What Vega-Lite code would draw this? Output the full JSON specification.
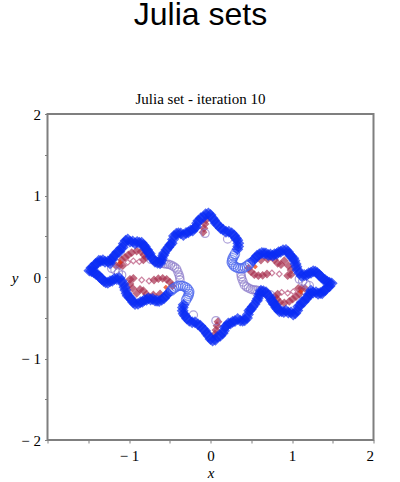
{"$schema":"https://vega.github.io/schema/vega-lite/v6.json","width":326,"height":326,"autosize":{"type":"none"},"padding":{"left":47.5,"top":114,"right":26.5,"bottom":42},"background":"white",
"title":{"text":"Julia sets","subtitle":"Julia set - iteration 10","anchor":"middle","dx":-10,"font":"Liberation Sans","fontSize":32,"fontWeight":"normal","color":"#000000","subtitleFont":"Liberation Serif","subtitleFontSize":15,"subtitleColor":"#000000","subtitlePadding":60,"offset":-1},
"config":{"view":{"stroke":"#7f7f7f","strokeWidth":2}},
"data":{"values":[
{"x":-1.159,"y":0.139,"g":"red"},{"x":-1.118,"y":0.139,"g":"red"},{"x":-1.077,"y":0.139,"g":"red"},{"x":-1.09,"y":0.209,"g":"red"},{"x":-1.049,"y":0.242,"g":"red"},{"x":-1.008,"y":0.27,"g":"red"},{"x":-0.967,"y":0.299,"g":"red"},{"x":-0.906,"y":0.319,"g":"red"},{"x":-0.852,"y":0.311,"g":"red"},{"x":-0.816,"y":0.27,"g":"red"},{"x":-0.791,"y":0.241,"g":"red"},{"x":-0.824,"y":0.209,"g":"red"},{"x":-0.873,"y":0.188,"g":"small"},{"x":-0.947,"y":0.197,"g":"small"},{"x":-1.016,"y":0.18,"g":"small"},
{"x":-0.988,"y":-0.028,"g":"red"},{"x":-0.947,"y":-0.016,"g":"red"},{"x":-0.844,"y":-0.037,"g":"small"},{"x":-0.754,"y":-0.049,"g":"small"},{"x":-0.693,"y":-0.037,"g":"red"},{"x":-0.64,"y":-0.02,"g":"red"},{"x":-0.587,"y":-0.016,"g":"red"},{"x":-0.538,"y":-0.028,"g":"red"},{"x":-0.497,"y":-0.065,"g":"red"},{"x":-0.468,"y":-0.11,"g":"red"},{"x":-0.988,"y":-0.086,"g":"red"},{"x":-0.955,"y":-0.139,"g":"red"},{"x":-0.906,"y":-0.2,"g":"red"},{"x":-0.865,"y":-0.151,"g":"red"},{"x":-0.824,"y":-0.168,"g":"red"},{"x":-0.783,"y":-0.212,"g":"red"},{"x":-0.701,"y":-0.221,"g":"red"},{"x":-0.619,"y":-0.208,"g":"red"},
{"x":-0.055,"y":0.7,"g":"red"},{"x":-0.067,"y":0.651,"g":"red"},{"x":-0.08,"y":0.597,"g":"red"},{"x":-0.092,"y":0.548,"g":"red"},
{"x":1.159,"y":-0.139,"g":"red"},{"x":1.118,"y":-0.139,"g":"red"},{"x":1.077,"y":-0.139,"g":"red"},{"x":1.09,"y":-0.209,"g":"red"},{"x":1.049,"y":-0.242,"g":"red"},{"x":1.008,"y":-0.27,"g":"red"},{"x":0.967,"y":-0.299,"g":"red"},{"x":0.906,"y":-0.319,"g":"red"},{"x":0.852,"y":-0.311,"g":"red"},{"x":0.816,"y":-0.27,"g":"red"},{"x":0.791,"y":-0.241,"g":"red"},{"x":0.824,"y":-0.209,"g":"red"},{"x":0.873,"y":-0.188,"g":"small"},{"x":0.947,"y":-0.197,"g":"small"},{"x":1.016,"y":-0.18,"g":"small"},
{"x":0.988,"y":0.028,"g":"red"},{"x":0.947,"y":0.016,"g":"red"},{"x":0.844,"y":0.037,"g":"small"},{"x":0.754,"y":0.049,"g":"small"},{"x":0.693,"y":0.037,"g":"red"},{"x":0.64,"y":0.02,"g":"red"},{"x":0.587,"y":0.016,"g":"red"},{"x":0.538,"y":0.028,"g":"red"},{"x":0.497,"y":0.065,"g":"red"},{"x":0.468,"y":0.11,"g":"red"},{"x":0.988,"y":0.086,"g":"red"},{"x":0.955,"y":0.139,"g":"red"},{"x":0.906,"y":0.2,"g":"red"},{"x":0.865,"y":0.151,"g":"red"},{"x":0.824,"y":0.168,"g":"red"},{"x":0.783,"y":0.212,"g":"red"},{"x":0.701,"y":0.221,"g":"red"},{"x":0.619,"y":0.208,"g":"red"},
{"x":0.055,"y":-0.7,"g":"red"},{"x":0.067,"y":-0.651,"g":"red"},{"x":0.08,"y":-0.597,"g":"red"},{"x":0.092,"y":-0.548,"g":"red"},
{"x":-1.11,"y":0.18,"g":"orange"},{"x":-0.548,"y":-0.127,"g":"orange"},{"x":1.11,"y":-0.18,"g":"orange"},{"x":0.548,"y":0.127,"g":"orange"},
{"x":-0.378,"y":-0.004,"g":"purple"},{"x":-0.374,"y":-0.037,"g":"purple"},{"x":-0.386,"y":0.025,"g":"purple"},{"x":-0.415,"y":0.098,"g":"purple"},{"x":-0.44,"y":0.12,"g":"purple"},{"x":-0.464,"y":0.135,"g":"purple"},{"x":-0.49,"y":0.147,"g":"purple"},{"x":-0.517,"y":0.156,"g":"purple"},{"x":-0.545,"y":0.16,"g":"purple"},{"x":-0.57,"y":0.164,"g":"purple"},{"x":-0.6,"y":0.17,"g":"purple"},{"x":-0.628,"y":0.176,"g":"purple"},{"x":-0.655,"y":0.186,"g":"purple"},{"x":-0.681,"y":0.197,"g":"purple"},{"x":-0.73,"y":0.217,"g":"purple"},{"x":-0.4,"y":0.06,"g":"purple"},{"x":-1.212,"y":0.106,"g":"purple"},{"x":-1.172,"y":0.086,"g":"purple"},{"x":-1.131,"y":0.053,"g":"purple"},{"x":-1.09,"y":0.025,"g":"purple"},{"x":-0.21,"y":-0.466,"g":"purple"},{"x":-0.067,"y":0.536,"g":"purple"},
{"x":0.378,"y":0.004,"g":"purple"},{"x":0.374,"y":0.037,"g":"purple"},{"x":0.386,"y":-0.025,"g":"purple"},{"x":0.415,"y":-0.098,"g":"purple"},{"x":0.44,"y":-0.12,"g":"purple"},{"x":0.464,"y":-0.135,"g":"purple"},{"x":0.49,"y":-0.147,"g":"purple"},{"x":0.517,"y":-0.156,"g":"purple"},{"x":0.545,"y":-0.16,"g":"purple"},{"x":0.57,"y":-0.164,"g":"purple"},{"x":0.6,"y":-0.17,"g":"purple"},{"x":0.628,"y":-0.176,"g":"purple"},{"x":0.655,"y":-0.186,"g":"purple"},{"x":0.681,"y":-0.197,"g":"purple"},{"x":0.73,"y":-0.217,"g":"purple"},{"x":0.4,"y":-0.06,"g":"purple"},{"x":1.212,"y":-0.106,"g":"purple"},{"x":1.172,"y":-0.086,"g":"purple"},{"x":1.131,"y":-0.053,"g":"purple"},{"x":1.09,"y":-0.025,"g":"purple"},{"x":0.21,"y":0.466,"g":"purple"},{"x":0.067,"y":-0.536,"g":"purple"},
{"x":0.3,"y":0.282,"g":"thin"},{"x":0.285,"y":0.255,"g":"thin"},{"x":0.272,"y":0.229,"g":"thin"},{"x":0.265,"y":0.205,"g":"thin"},{"x":0.26,"y":0.18,"g":"thin"},{"x":0.272,"y":0.158,"g":"thin"},{"x":0.288,"y":0.139,"g":"thin"},{"x":0.31,"y":0.123,"g":"thin"},{"x":0.337,"y":0.111,"g":"thin"},{"x":0.365,"y":0.107,"g":"thin"},{"x":0.395,"y":0.107,"g":"thin"},{"x":0.42,"y":0.12,"g":"thin"},{"x":0.444,"y":0.135,"g":"thin"},{"x":0.465,"y":0.15,"g":"thin"},{"x":0.485,"y":0.168,"g":"thin"},
{"x":-0.3,"y":-0.282,"g":"thin"},{"x":-0.285,"y":-0.255,"g":"thin"},{"x":-0.272,"y":-0.229,"g":"thin"},{"x":-0.265,"y":-0.205,"g":"thin"},{"x":-0.26,"y":-0.18,"g":"thin"},{"x":-0.272,"y":-0.158,"g":"thin"},{"x":-0.288,"y":-0.139,"g":"thin"},{"x":-0.31,"y":-0.123,"g":"thin"},{"x":-0.337,"y":-0.111,"g":"thin"},{"x":-0.365,"y":-0.107,"g":"thin"},{"x":-0.395,"y":-0.107,"g":"thin"},{"x":-0.42,"y":-0.12,"g":"thin"},{"x":-0.444,"y":-0.135,"g":"thin"},{"x":-0.465,"y":-0.15,"g":"thin"},{"x":-0.485,"y":-0.168,"g":"thin"},
{"x":-1.486,"y":0.078,"g":"outer"},{"x":-1.437,"y":0.127,"g":"outer"},{"x":-1.388,"y":0.168,"g":"outer"},{"x":-1.347,"y":0.197,"g":"outer"},{"x":-1.294,"y":0.188,"g":"outer"},{"x":-1.233,"y":0.168,"g":"outer"},{"x":-1.204,"y":0.217,"g":"outer"},{"x":-1.172,"y":0.27,"g":"outer"},{"x":-1.118,"y":0.311,"g":"outer"},{"x":-1.077,"y":0.364,"g":"outer"},{"x":-1.041,"y":0.446,"g":"outer"},{"x":-0.988,"y":0.434,"g":"outer"},{"x":-0.926,"y":0.413,"g":"outer"},{"x":-0.873,"y":0.421,"g":"outer"},{"x":-0.824,"y":0.393,"g":"outer"},{"x":-0.795,"y":0.344,"g":"outer"},{"x":-0.763,"y":0.303,"g":"outer"},{"x":-0.734,"y":0.25,"g":"outer"},{"x":-0.681,"y":0.188,"g":"outer"},{"x":-0.619,"y":0.168,"g":"outer"},{"x":-0.595,"y":0.229,"g":"outer"},{"x":-0.57,"y":0.291,"g":"outer"},{"x":-0.517,"y":0.364,"g":"outer"},{"x":-0.476,"y":0.413,"g":"outer"},{"x":-0.448,"y":0.503,"g":"outer"},{"x":-0.394,"y":0.536,"g":"outer"},{"x":-0.333,"y":0.516,"g":"outer"},{"x":-0.272,"y":0.548,"g":"outer"},{"x":-0.219,"y":0.569,"g":"outer"},{"x":-0.178,"y":0.618,"g":"outer"},{"x":-0.149,"y":0.691,"g":"outer"},{"x":-0.088,"y":0.732,"g":"outer"},{"x":-0.026,"y":0.781,"g":"outer"},{"x":0.026,"y":0.72,"g":"outer"},{"x":0.067,"y":0.659,"g":"outer"},{"x":0.125,"y":0.597,"g":"outer"},{"x":0.19,"y":0.556,"g":"outer"},{"x":0.26,"y":0.536,"g":"outer"},{"x":0.313,"y":0.475,"g":"outer"},{"x":0.341,"y":0.413,"g":"outer"},{"x":0.329,"y":0.34,"g":"outer"},{"x":0.546,"y":0.229,"g":"outer"},{"x":0.599,"y":0.278,"g":"outer"},{"x":0.656,"y":0.291,"g":"outer"},{"x":0.709,"y":0.27,"g":"outer"},{"x":0.763,"y":0.262,"g":"outer"},{"x":0.812,"y":0.282,"g":"outer"},{"x":0.861,"y":0.311,"g":"outer"},{"x":0.926,"y":0.332,"g":"outer"},{"x":0.967,"y":0.278,"g":"outer"},{"x":1.016,"y":0.229,"g":"outer"},{"x":1.045,"y":0.16,"g":"outer"},{"x":1.069,"y":0.086,"g":"outer"},{"x":1.118,"y":0.012,"g":"outer"},{"x":1.18,"y":0.025,"g":"outer"},{"x":1.233,"y":0.053,"g":"outer"},{"x":1.286,"y":0.066,"g":"outer"},{"x":1.335,"y":0.025,"g":"outer"},{"x":1.384,"y":-0.028,"g":"outer"},{"x":1.433,"y":-0.057,"g":"outer"},{"x":1.487,"y":-0.078,"g":"outer"},
{"x":1.437,"y":-0.127,"g":"outer"},{"x":1.388,"y":-0.168,"g":"outer"},{"x":1.347,"y":-0.197,"g":"outer"},{"x":1.294,"y":-0.188,"g":"outer"},{"x":1.233,"y":-0.168,"g":"outer"},{"x":1.204,"y":-0.217,"g":"outer"},{"x":1.172,"y":-0.27,"g":"outer"},{"x":1.118,"y":-0.311,"g":"outer"},{"x":1.077,"y":-0.364,"g":"outer"},{"x":1.041,"y":-0.446,"g":"outer"},{"x":0.988,"y":-0.434,"g":"outer"},{"x":0.926,"y":-0.413,"g":"outer"},{"x":0.873,"y":-0.421,"g":"outer"},{"x":0.824,"y":-0.393,"g":"outer"},{"x":0.795,"y":-0.344,"g":"outer"},{"x":0.763,"y":-0.303,"g":"outer"},{"x":0.734,"y":-0.25,"g":"outer"},{"x":0.681,"y":-0.188,"g":"outer"},{"x":0.619,"y":-0.168,"g":"outer"},{"x":0.595,"y":-0.229,"g":"outer"},{"x":0.57,"y":-0.291,"g":"outer"},{"x":0.517,"y":-0.364,"g":"outer"},{"x":0.476,"y":-0.413,"g":"outer"},{"x":0.448,"y":-0.503,"g":"outer"},{"x":0.394,"y":-0.536,"g":"outer"},{"x":0.333,"y":-0.516,"g":"outer"},{"x":0.272,"y":-0.548,"g":"outer"},{"x":0.219,"y":-0.569,"g":"outer"},{"x":0.178,"y":-0.618,"g":"outer"},{"x":0.149,"y":-0.691,"g":"outer"},{"x":0.088,"y":-0.732,"g":"outer"},{"x":0.026,"y":-0.781,"g":"outer"},{"x":-0.026,"y":-0.72,"g":"outer"},{"x":-0.067,"y":-0.659,"g":"outer"},{"x":-0.125,"y":-0.597,"g":"outer"},{"x":-0.19,"y":-0.556,"g":"outer"},{"x":-0.26,"y":-0.536,"g":"outer"},{"x":-0.313,"y":-0.475,"g":"outer"},{"x":-0.341,"y":-0.413,"g":"outer"},{"x":-0.329,"y":-0.34,"g":"outer"},{"x":-0.546,"y":-0.229,"g":"outer"},{"x":-0.599,"y":-0.278,"g":"outer"},{"x":-0.656,"y":-0.291,"g":"outer"},{"x":-0.709,"y":-0.27,"g":"outer"},{"x":-0.763,"y":-0.262,"g":"outer"},{"x":-0.812,"y":-0.282,"g":"outer"},{"x":-0.861,"y":-0.311,"g":"outer"},{"x":-0.926,"y":-0.332,"g":"outer"},{"x":-0.967,"y":-0.278,"g":"outer"},{"x":-1.016,"y":-0.229,"g":"outer"},{"x":-1.045,"y":-0.16,"g":"outer"},{"x":-1.069,"y":-0.086,"g":"outer"},{"x":-1.118,"y":-0.012,"g":"outer"},{"x":-1.18,"y":-0.025,"g":"outer"},{"x":-1.233,"y":-0.053,"g":"outer"},{"x":-1.286,"y":-0.066,"g":"outer"},{"x":-1.335,"y":-0.025,"g":"outer"},{"x":-1.384,"y":0.028,"g":"outer"},{"x":-1.433,"y":0.057,"g":"outer"},
{"x":-1.46,"y":0.115,"g":"outer"},{"x":-1.41,"y":0.16,"g":"outer"},{"x":-1.37,"y":0.2,"g":"outer"},{"x":-1.32,"y":0.205,"g":"outer"},{"x":-1.26,"y":0.19,"g":"outer"},{"x":-1.225,"y":0.205,"g":"outer"},{"x":-1.19,"y":0.25,"g":"outer"},{"x":-1.145,"y":0.305,"g":"outer"},{"x":-1.1,"y":0.35,"g":"outer"},{"x":-1.065,"y":0.41,"g":"outer"},{"x":-1.015,"y":0.46,"g":"outer"},{"x":-0.955,"y":0.435,"g":"outer"},{"x":-0.9,"y":0.43,"g":"outer"},{"x":-0.845,"y":0.42,"g":"outer"},{"x":-0.805,"y":0.375,"g":"outer"},{"x":-0.775,"y":0.33,"g":"outer"},{"x":-0.745,"y":0.285,"g":"outer"},{"x":-0.705,"y":0.225,"g":"outer"},{"x":-0.65,"y":0.175,"g":"outer"},{"x":-0.605,"y":0.2,"g":"outer"},{"x":-0.58,"y":0.265,"g":"outer"},{"x":-0.54,"y":0.335,"g":"outer"},{"x":-0.495,"y":0.395,"g":"outer"},{"x":-0.46,"y":0.46,"g":"outer"},{"x":-0.42,"y":0.53,"g":"outer"},{"x":-0.365,"y":0.535,"g":"outer"},{"x":-0.3,"y":0.54,"g":"outer"},{"x":-0.245,"y":0.57,"g":"outer"},{"x":-0.195,"y":0.6,"g":"outer"},{"x":-0.165,"y":0.66,"g":"outer"},{"x":-0.12,"y":0.72,"g":"outer"},{"x":-0.06,"y":0.77,"g":"outer"},{"x":0.0,"y":0.76,"g":"outer"},{"x":0.045,"y":0.695,"g":"outer"},{"x":0.095,"y":0.635,"g":"outer"},{"x":0.155,"y":0.58,"g":"outer"},{"x":0.225,"y":0.555,"g":"outer"},{"x":0.29,"y":0.51,"g":"outer"},{"x":0.33,"y":0.45,"g":"outer"},{"x":0.34,"y":0.375,"g":"outer"},{"x":0.52,"y":0.2,"g":"outer"},{"x":0.57,"y":0.26,"g":"outer"},{"x":0.63,"y":0.295,"g":"outer"},{"x":0.68,"y":0.29,"g":"outer"},{"x":0.735,"y":0.275,"g":"outer"},{"x":0.785,"y":0.28,"g":"outer"},{"x":0.835,"y":0.305,"g":"outer"},{"x":0.89,"y":0.33,"g":"outer"},{"x":0.95,"y":0.31,"g":"outer"},{"x":0.99,"y":0.255,"g":"outer"},{"x":1.03,"y":0.2,"g":"outer"},{"x":1.055,"y":0.125,"g":"outer"},{"x":1.09,"y":0.05,"g":"outer"},{"x":1.15,"y":0.025,"g":"outer"},{"x":1.205,"y":0.045,"g":"outer"},{"x":1.26,"y":0.07,"g":"outer"},{"x":1.31,"y":0.05,"g":"outer"},{"x":1.36,"y":0.0,"g":"outer"},{"x":1.41,"y":-0.04,"g":"outer"},{"x":1.46,"y":-0.07,"g":"outer"},
{"x":1.46,"y":-0.115,"g":"outer"},{"x":1.41,"y":-0.16,"g":"outer"},{"x":1.37,"y":-0.2,"g":"outer"},{"x":1.32,"y":-0.205,"g":"outer"},{"x":1.26,"y":-0.19,"g":"outer"},{"x":1.225,"y":-0.205,"g":"outer"},{"x":1.19,"y":-0.25,"g":"outer"},{"x":1.145,"y":-0.305,"g":"outer"},{"x":1.1,"y":-0.35,"g":"outer"},{"x":1.065,"y":-0.41,"g":"outer"},{"x":1.015,"y":-0.46,"g":"outer"},{"x":0.955,"y":-0.435,"g":"outer"},{"x":0.9,"y":-0.43,"g":"outer"},{"x":0.845,"y":-0.42,"g":"outer"},{"x":0.805,"y":-0.375,"g":"outer"},{"x":0.775,"y":-0.33,"g":"outer"},{"x":0.745,"y":-0.285,"g":"outer"},{"x":0.705,"y":-0.225,"g":"outer"},{"x":0.65,"y":-0.175,"g":"outer"},{"x":0.605,"y":-0.2,"g":"outer"},{"x":0.58,"y":-0.265,"g":"outer"},{"x":0.54,"y":-0.335,"g":"outer"},{"x":0.495,"y":-0.395,"g":"outer"},{"x":0.46,"y":-0.46,"g":"outer"},{"x":0.42,"y":-0.53,"g":"outer"},{"x":0.365,"y":-0.535,"g":"outer"},{"x":0.3,"y":-0.54,"g":"outer"},{"x":0.245,"y":-0.57,"g":"outer"},{"x":0.195,"y":-0.6,"g":"outer"},{"x":0.165,"y":-0.66,"g":"outer"},{"x":0.12,"y":-0.72,"g":"outer"},{"x":0.06,"y":-0.77,"g":"outer"},{"x":0.0,"y":-0.76,"g":"outer"},{"x":-0.045,"y":-0.695,"g":"outer"},{"x":-0.095,"y":-0.635,"g":"outer"},{"x":-0.155,"y":-0.58,"g":"outer"},{"x":-0.225,"y":-0.555,"g":"outer"},{"x":-0.29,"y":-0.51,"g":"outer"},{"x":-0.33,"y":-0.45,"g":"outer"},{"x":-0.34,"y":-0.375,"g":"outer"},{"x":-0.52,"y":-0.2,"g":"outer"},{"x":-0.57,"y":-0.26,"g":"outer"},{"x":-0.63,"y":-0.295,"g":"outer"},{"x":-0.68,"y":-0.29,"g":"outer"},{"x":-0.735,"y":-0.275,"g":"outer"},{"x":-0.785,"y":-0.28,"g":"outer"},{"x":-0.835,"y":-0.305,"g":"outer"},{"x":-0.89,"y":-0.33,"g":"outer"},{"x":-0.95,"y":-0.31,"g":"outer"},{"x":-0.99,"y":-0.255,"g":"outer"},{"x":-1.03,"y":-0.2,"g":"outer"},{"x":-1.055,"y":-0.125,"g":"outer"},{"x":-1.09,"y":-0.05,"g":"outer"},{"x":-1.15,"y":-0.025,"g":"outer"},{"x":-1.205,"y":-0.045,"g":"outer"},{"x":-1.26,"y":-0.07,"g":"outer"},{"x":-1.31,"y":-0.05,"g":"outer"},{"x":-1.36,"y":0.0,"g":"outer"},{"x":-1.41,"y":0.04,"g":"outer"},{"x":-1.46,"y":0.07,"g":"outer"}
]},
"mark":{"type":"point","strokeWidth":1.2},
"encoding":{
"x":{"field":"x","type":"quantitative","scale":{"domain":[-2,2],"nice":false},"title":"x","axis":{"values":[-2,-1.5,-1,-0.5,0,0.5,1,1.5,2],"labelExpr":"datum.value==-2?'':datum.value==-1?'− 1':datum.value==0?'0':datum.value==1?'1':datum.value==2?'2':''","grid":false,"domain":false,"tickColor":"#7f7f7f","tickSize":3,"labelFont":"Liberation Serif","labelFontSize":15,"labelColor":"#000000","labelPadding":5,"labelOverlap":false,"titleFont":"Liberation Serif","titleFontSize":15,"titleFontStyle":"italic","titleFontWeight":"normal","titleColor":"#000000","titlePadding":2}},
"y":{"field":"y","type":"quantitative","scale":{"domain":[-2,2],"nice":false},"title":"y","axis":{"values":[-2,-1.5,-1,-0.5,0,0.5,1,1.5,2],"labelExpr":"datum.value==-2?'− 2':datum.value==-1?'− 1':datum.value==0?'0':datum.value==1?'1':datum.value==2?'2':''","grid":false,"domain":false,"tickColor":"#7f7f7f","tickSize":3,"labelFont":"Liberation Serif","labelFontSize":15,"labelColor":"#000000","labelPadding":4,"labelOverlap":false,"titleFont":"Liberation Serif","titleFontSize":15,"titleFontStyle":"italic","titleFontWeight":"normal","titleColor":"#000000","titleAngle":0,"titleX":-33,"titleY":171}},
"shape":{"field":"g","type":"nominal","legend":null,"scale":{"domain":["outer","thin","purple","red","small","orange"],"range":["diamond","circle","circle","diamond","diamond","diamond"]}},
"size":{"field":"g","type":"nominal","legend":null,"scale":{"domain":["outer","thin","purple","red","small","orange"],"range":[105,14,10,12,8,14]}},
"fill":{"field":"g","type":"nominal","legend":null,"scale":{"domain":["outer","thin","purple","red","small","orange"],"range":["#0a2cf5","transparent","transparent","#a8304f","transparent","#e83000"]}},
"stroke":{"field":"g","type":"nominal","legend":null,"scale":{"domain":["outer","thin","purple","red","small","orange"],"range":["#0a2cf5","#4a65ee","#8d7ccb","#a8304f","#b8507a","#e83000"]}}
}}
